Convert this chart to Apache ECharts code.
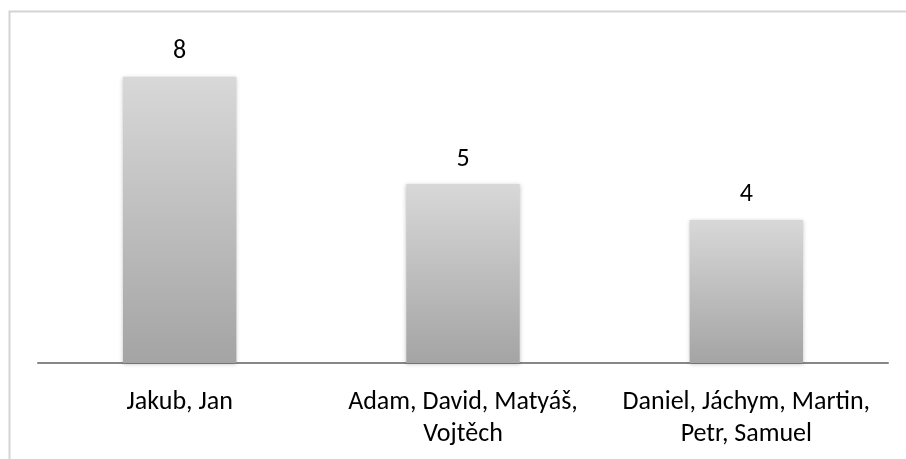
<!DOCTYPE html>
<html>
<head>
<meta charset="utf-8">
<script src="https://cdn.jsdelivr.net/npm/echarts@6/dist/echarts.min.js"></script>
<style>
  html, body { margin: 0; padding: 0; background: #fff; }
  #chart { width: 906px; height: 459px; }
</style>
</head>
<body>
<div id="chart"></div>
<script>
// Name groups and how many names each group shares
const categories = ['Jakub, Jan', 'Adam, David, Matyáš,\nVojtěch', 'Daniel, Jáchym, Martin,\nPetr, Samuel'];
const counts = [8, 5, 4];

const chart = echarts.init(document.getElementById('chart'), null, { renderer: 'canvas' });
const font = 'Carlito, "Open Sans", "Noto Sans", sans-serif';

chart.setOption({
  animation: false,
  backgroundColor: '#ffffff',
  graphic: [{
    type: 'rect',
    shape: { x: 9.5, y: 11.5, width: 1000, height: 1000 },
    style: { fill: 'none', stroke: '#d4d4d4', lineWidth: 2 },
    silent: true
  }],
  grid: { left: 38, right: 18, top: 41, bottom: 96 },
  xAxis: {
    type: 'category',
    data: categories,
    axisLine: { lineStyle: { color: '#878787', width: 2 } },
    axisTick: { show: false },
    axisLabel: {
      color: '#000', fontFamily: font, fontSize: 26, lineHeight: 32, margin: 23, interval: 0
    }
  },
  yAxis: {
    type: 'value', min: 0, max: 9, interval: 1,
    show: false, splitLine: { show: false }
  },
  series: [{
    type: 'bar',
    data: counts,
    barWidth: '40%',
    itemStyle: {
      color: new echarts.graphic.LinearGradient(0, 0, 0, 1, [
        { offset: 0, color: '#d8d8d8' },
        { offset: 1, color: '#a4a4a4' }
      ]),
      shadowColor: 'rgba(0,0,0,0.25)', shadowBlur: 4, shadowOffsetY: 1
    },
    label: {
      show: true, position: 'top', distance: 12,
      color: '#000', fontFamily: font, fontSize: 26
    }
  }]
});
</script>
</body>
</html>
